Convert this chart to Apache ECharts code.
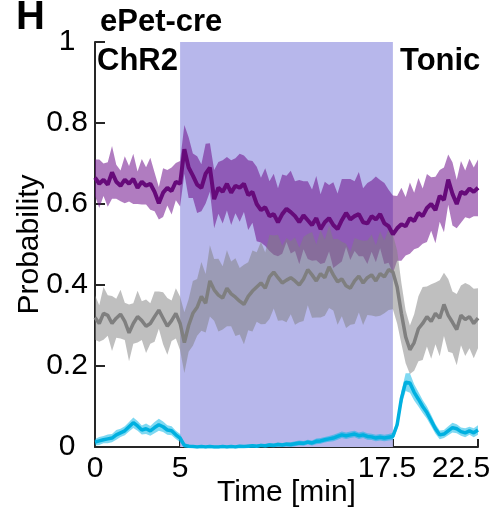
<!DOCTYPE html>
<html><head><meta charset="utf-8">
<script src="https://cdn.jsdelivr.net/npm/echarts@6/dist/echarts.min.js"></script>
<style>html,body{margin:0;padding:0;background:#fff}#c{width:498px;height:518px}</style>
</head><body><div id="c"></div>
<script>
// sample spacing of the traces (minutes)
const dt = 0.25;
const xTicks = [0, 5, 17.5, 22.5];
const yTicks = [0, 0.2, 0.4, 0.6, 0.8, 1];
const stimStart = 5, stimEnd = 17.5;

const purpleMean = [
  0.665,0.650,0.660,0.648,0.678,0.655,0.645,0.660,0.650,0.662,0.640,0.655,0.645,0.650,0.630,0.602,0.628,0.640,0.632,0.655,0.650,
  0.735,0.690,0.670,0.648,0.640,0.675,0.690,0.612,0.640,0.630,0.650,0.628,0.645,0.640,0.650,0.622,0.630,0.600,0.585,0.592,
  0.570,0.575,0.555,0.575,0.588,0.580,0.570,0.555,0.572,0.560,0.548,0.565,0.538,0.555,0.565,0.548,0.538,0.560,0.578,0.562,
  0.570,0.575,0.555,0.552,0.570,0.562,0.575,0.552,0.545,0.525,
  0.540,0.550,0.545,0.565,0.558,0.578,0.570,0.590,0.600,0.585,0.620,0.610,0.660,0.625,0.600,0.630,0.625,0.638,0.630,0.640
];
const purpleHw = [
  0.045,0.060,0.040,0.055,0.065,0.042,0.038,0.058,0.044,0.062,0.040,0.056,0.046,0.064,0.048,0.040,0.060,0.044,0.058,0.046,0.056,
  0.060,0.075,0.055,0.070,0.058,0.074,0.060,0.072,0.064,0.078,0.066,0.080,0.068,0.084,0.070,0.086,0.076,0.092,0.080,0.096,
  0.086,0.100,0.084,0.098,0.082,0.102,0.086,0.104,0.084,0.096,0.088,0.104,0.086,0.100,0.082,0.106,0.088,0.102,0.084,0.100,
  0.086,0.104,0.084,0.100,0.088,0.106,0.084,0.100,0.090,0.096,
  0.080,0.090,0.072,0.088,0.070,0.086,0.068,0.084,0.066,0.082,0.064,0.080,0.062,0.078,0.060,0.076,0.058,0.074,0.060,0.070
];
const grayMean = [
  0.320,0.305,0.330,0.325,0.305,0.318,0.328,0.310,0.282,0.305,0.322,0.312,0.298,0.305,0.322,0.338,0.318,0.298,0.312,0.330,0.305,
  0.258,0.300,0.330,0.345,0.372,0.355,0.410,0.388,0.375,0.368,0.392,0.378,0.370,0.360,0.352,0.372,0.385,0.395,0.405,0.392,
  0.420,0.432,0.418,0.405,0.412,0.418,0.410,0.400,0.415,0.438,0.425,0.410,0.428,0.418,0.445,0.425,0.408,0.415,0.398,0.392,
  0.410,0.422,0.405,0.418,0.425,0.410,0.428,0.420,0.438,0.432,
  0.395,0.330,0.272,0.240,0.258,0.292,0.305,0.322,0.310,0.330,0.318,0.352,0.325,0.308,0.290,0.325,0.315,0.322,0.305,0.318
];
const grayHw = [
  0.055,0.045,0.065,0.050,0.068,0.048,0.060,0.046,0.070,0.050,0.064,0.048,0.066,0.050,0.062,0.046,0.064,0.070,0.050,0.062,0.066,
  0.075,0.065,0.080,0.070,0.085,0.072,0.088,0.076,0.090,0.078,0.094,0.080,0.096,0.082,0.098,0.084,0.100,0.086,0.102,0.088,
  0.104,0.090,0.106,0.092,0.104,0.090,0.108,0.092,0.104,0.088,0.106,0.090,0.108,0.094,0.102,0.088,0.106,0.092,0.104,0.090,
  0.106,0.090,0.104,0.092,0.100,0.088,0.104,0.090,0.100,0.092,
  0.090,0.075,0.065,0.060,0.070,0.080,0.090,0.074,0.092,0.076,0.094,0.078,0.090,0.076,0.088,0.074,0.090,0.078,0.086,0.074
];
const cyanMean = [
  0.012,0.015,0.018,0.020,0.022,0.030,0.035,0.040,0.050,0.060,0.052,0.042,0.045,0.040,0.048,0.055,0.050,0.042,0.040,0.030,0.022,
  0.004,0.002,0.001,0.000,0.001,0.000,0.001,0.000,0.000,0.001,0.000,0.001,0.000,0.002,0.001,0.002,0.003,0.002,0.004,0.003,
  0.005,0.004,0.006,0.005,0.007,0.006,0.008,0.010,0.009,0.012,0.010,0.014,0.015,0.018,0.020,0.022,0.026,0.030,0.028,0.030,
  0.032,0.028,0.030,0.026,0.025,0.022,0.024,0.022,0.024,0.026,
  0.055,0.120,0.160,0.158,0.135,0.118,0.100,0.085,0.065,0.045,0.030,0.032,0.040,0.048,0.045,0.038,0.035,0.040,0.035,0.042
];
const cyanHw = [
  0.008,0.010,0.009,0.011,0.010,0.012,0.010,0.011,0.012,0.013,0.012,0.011,0.013,0.012,0.014,0.015,0.013,0.012,0.011,0.010,0.010,
  0.006,0.004,0.003,0.003,0.003,0.003,0.003,0.003,0.003,0.003,0.003,0.003,0.003,0.003,0.003,0.004,0.004,0.004,0.004,0.004,
  0.005,0.005,0.005,0.005,0.005,0.006,0.006,0.006,0.006,0.006,0.006,0.007,0.007,0.007,0.007,0.008,0.008,0.008,0.008,0.008,
  0.008,0.008,0.008,0.008,0.008,0.008,0.008,0.008,0.008,0.009,
  0.012,0.018,0.022,0.024,0.020,0.018,0.016,0.015,0.014,0.012,0.011,0.010,0.011,0.012,0.011,0.010,0.011,0.010,0.011,0.012
];

const FONT = '"Liberation Sans", Arial, Helvetica, sans-serif';
const times = purpleMean.map((_, i) => i * dt);

// shaded band (mean ± half-width) drawn through the axes with api.coord
function bandSeries(name, mean, hw, fill, lineColor, lineWidth) {
  const bandData = mean.map((m, i) => [times[i], m - hw[i], m + hw[i]]);
  const line = mean.map((m, i) => [times[i], m]);
  return [
    { type: 'custom', name: name + '_band', data: bandData, silent: true, z: 2,
      encode: { x: 0, y: [1, 2] },
      renderItem: function (params, api) {
        if (params.dataIndex !== 0) return null;
        const upper = bandData.map(d => api.coord([d[0], d[2]]));
        const lower = bandData.map(d => api.coord([d[0], d[1]])).reverse();
        return { type: 'polygon', shape: { points: upper.concat(lower) },
          style: { fill: fill, stroke: null } };
      } },
    { type: 'line', name: name, data: line, symbol: 'none', silent: true, z: 2,
      lineStyle: { color: lineColor, width: lineWidth } }
  ];
}

const chart = echarts.init(document.getElementById('c'), null, { renderer: 'canvas' });
const labelFmt = v => v === 17.5 ? '{a|17.5}' : (v === 22.5 ? '{b|22.5}' : String(v));
chart.setOption({
  animation: false,
  backgroundColor: '#fff',
  grid: { left: 95, right: 20, top: 42, bottom: 71, containLabel: false, outerBoundsMode: 'none' },
  xAxis: {
    type: 'value', min: 0, max: 22.5,
    name: 'Time [min]', nameLocation: 'middle', nameGap: 31, nameMoveOverlap: false,
    nameTextStyle: { fontSize: 30, color: '#000', fontFamily: FONT },
    axisLine: { lineStyle: { color: '#262626', width: 2 } },
    axisTick: { inside: true, length: 8, customValues: xTicks, lineStyle: { color: '#262626', width: 2 } },
    axisLabel: {
      customValues: xTicks, formatter: labelFmt, fontSize: 30, color: '#000', fontFamily: FONT, margin: 7,
      rich: {
        a: { fontSize: 30, color: '#000', fontFamily: FONT, padding: [0, 12, 0, 0] },
        b: { fontSize: 30, color: '#000', fontFamily: FONT, padding: [0, 34, 0, 0] }
      }
    },
    splitLine: { show: false }
  },
  yAxis: {
    type: 'value', min: 0, max: 1, interval: 0.2,
    name: 'Probability', nameLocation: 'middle', nameGap: 50, nameMoveOverlap: false,
    nameTextStyle: { fontSize: 30, color: '#000', fontFamily: FONT },
    axisLine: { show: true, lineStyle: { color: '#262626', width: 2 } },
    axisTick: { show: true, inside: true, length: 10, lineStyle: { color: '#262626', width: 2 } },
    axisLabel: { fontSize: 30, color: '#000', fontFamily: FONT, margin: 28, align: 'center', padding: [6, 0, 0, 0],
      formatter: v => String(Math.round(v * 10) / 10) },
    splitLine: { show: false }
  },
  graphic: [
    { type: 'text', x: 16, y: 18, z: 100, style: { text: 'H', fill: '#000', font: 'bold 40px ' + FONT, verticalAlign: 'middle' } },
    { type: 'text', x: 100, y: 22, z: 100, style: { text: 'ePet-cre', fill: '#000', font: 'bold 31px ' + FONT, verticalAlign: 'middle' } },
    { type: 'text', x: 97, y: 61, z: 100, style: { text: 'ChR2', fill: '#000', font: 'bold 31px ' + FONT, verticalAlign: 'middle' } },
    { type: 'text', x: 400, y: 61, z: 100, style: { text: 'Tonic', fill: '#000', font: 'bold 31px ' + FONT, verticalAlign: 'middle' } }
  ],
  series: [
    { type: 'line', name: 'stim', data: [], z: 1, silent: true,
      markArea: { silent: true, itemStyle: { color: '#b7b7eb', opacity: 1 },
        data: [[{ xAxis: stimStart, yAxis: 0 }, { xAxis: stimEnd, yAxis: 1 }]] } },
    ...bandSeries('purple', purpleMean, purpleHw, 'rgba(111,17,140,0.55)', '#660a7a', 4),
    ...bandSeries('gray', grayMean, grayHw, 'rgba(128,128,128,0.5)', '#7f7f7f', 3.5),
    ...bandSeries('cyan', cyanMean, cyanHw, 'rgba(0,180,230,0.5)', '#00b0e0', 3.5)
  ]
});
</script>
</body></html>
